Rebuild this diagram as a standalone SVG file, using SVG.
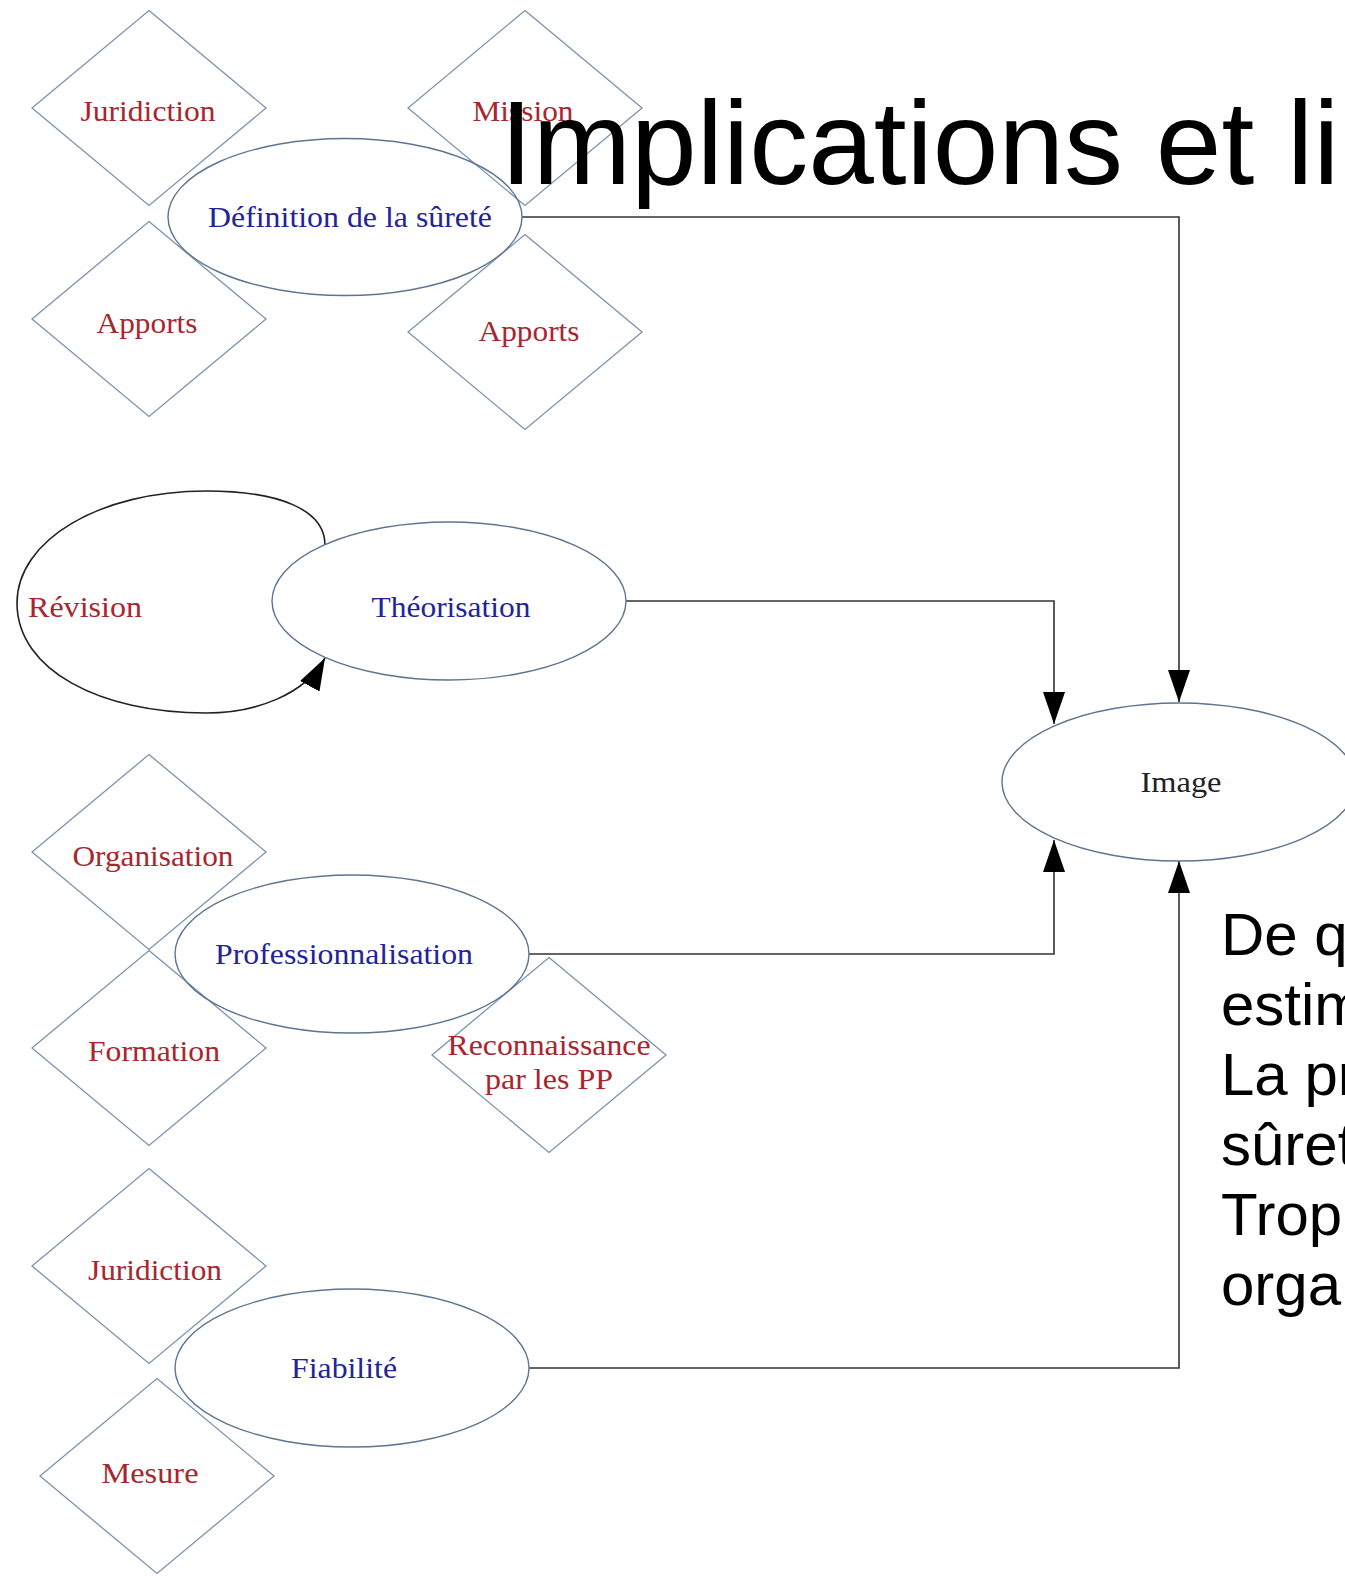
<svg xmlns="http://www.w3.org/2000/svg" width="1345" height="1576" viewBox="0 0 1345 1576">
<defs>
<style>
.dia{fill:none;stroke:#7a93b0;stroke-width:1.3}
.ell{fill:none;stroke:#5d7590;stroke-width:1.4}
.lbl{font-family:"Liberation Serif","Times New Roman",serif;font-size:30px;text-anchor:middle}
.red{fill:#a8262e}
.blue{fill:#23239a}
.blk{fill:#222}
.edge{fill:none;stroke:#333;stroke-width:1.6}
.loop{fill:none;stroke:#222;stroke-width:1.6}
.title{font-family:"Liberation Sans",Arial,sans-serif;font-size:118px;fill:#000}
.body{font-family:"Liberation Sans",Arial,sans-serif;font-size:60px;fill:#000}
</style>
<marker id="arr" markerUnits="userSpaceOnUse" markerWidth="34" markerHeight="24" refX="32" refY="11" orient="auto"><path d="M0,0 L32,11 L0,22 z" fill="#000"/></marker>
</defs>
<rect width="1345" height="1576" fill="#fff"/>

<g id="connectors">
<path class="edge" d="M522,217 H1179 V702" marker-end="url(#arr)"/>
<path class="edge" d="M626,601 H1054 V724" marker-end="url(#arr)"/>
<path class="edge" d="M529,954 H1054 V840" marker-end="url(#arr)"/>
<path class="edge" d="M529,1368 H1179 V861" marker-end="url(#arr)"/>
<path class="loop" d="M325,545 C325,510 280,491 206,491 C100,491 17,540 17,603 C17,670 100,713 206,713 C255,713 305,695 325,658" marker-end="url(#arr)"/>
</g>

<g id="n-juridiction1"><polygon class="dia" points="149,10.5 266,108 149,205.5 32,108"/><text class="lbl red" x="148" y="121" textLength="135" lengthAdjust="spacingAndGlyphs">Juridiction</text></g>
<g id="n-mission"><polygon class="dia" points="525,10.5 642,108 525,205.5 408,108"/><text class="lbl red" x="523" y="121" textLength="101" lengthAdjust="spacingAndGlyphs">Mission</text></g>
<g id="n-apports1"><polygon class="dia" points="149,221.5 266,319 149,416.5 32,319"/><text class="lbl red" x="147" y="333" textLength="101" lengthAdjust="spacingAndGlyphs">Apports</text></g>
<g id="n-apports2"><polygon class="dia" points="525,234.5 642,332 525,429.5 408,332"/><text class="lbl red" x="529" y="341" textLength="101" lengthAdjust="spacingAndGlyphs">Apports</text></g>
<g id="n-definition"><ellipse class="ell" cx="345" cy="217" rx="177" ry="78.5"/><text class="lbl blue" x="350" y="227" textLength="284" lengthAdjust="spacingAndGlyphs">Définition de la sûreté</text></g>

<g id="n-revision"><text class="lbl red" x="85" y="617" textLength="114" lengthAdjust="spacingAndGlyphs">Révision</text></g>
<g id="n-theorisation"><ellipse class="ell" cx="449" cy="601" rx="177" ry="79"/><text class="lbl blue" x="451" y="617" textLength="159" lengthAdjust="spacingAndGlyphs">Théorisation</text></g>

<g id="n-image"><ellipse class="ell" cx="1179" cy="782" rx="177" ry="79"/><text class="lbl blk" x="1181" y="792" font-size="28" textLength="81" lengthAdjust="spacingAndGlyphs">Image</text></g>

<g id="n-organisation"><polygon class="dia" points="149,754.5 266,852 149,949.5 32,852"/><text class="lbl red" x="153" y="866" textLength="161" lengthAdjust="spacingAndGlyphs">Organisation</text></g>
<g id="n-formation"><polygon class="dia" points="149,950.5 266,1048 149,1145.5 32,1048"/><text class="lbl red" x="154" y="1061" textLength="132" lengthAdjust="spacingAndGlyphs">Formation</text></g>
<g id="n-reconnaissance"><polygon class="dia" points="549,957.5 666,1055 549,1152.5 432,1055"/><text class="lbl red" x="549" y="1055" textLength="203" lengthAdjust="spacingAndGlyphs">Reconnaissance</text><text class="lbl red" x="549" y="1089" textLength="128" lengthAdjust="spacingAndGlyphs">par les PP</text></g>
<g id="n-professionnalisation"><ellipse class="ell" cx="352" cy="954" rx="177" ry="79"/><text class="lbl blue" x="344" y="964" textLength="258" lengthAdjust="spacingAndGlyphs">Professionnalisation</text></g>

<g id="n-juridiction2"><polygon class="dia" points="149,1168.5 266,1266 149,1363.5 32,1266"/><text class="lbl red" x="155" y="1280" textLength="134" lengthAdjust="spacingAndGlyphs">Juridiction</text></g>
<g id="n-mesure"><polygon class="dia" points="157,1378.5 274,1476 157,1573.5 40,1476"/><text class="lbl red" x="150" y="1483" textLength="97" lengthAdjust="spacingAndGlyphs">Mesure</text></g>
<g id="n-fiabilite"><ellipse class="ell" cx="352" cy="1368" rx="177" ry="79"/><text class="lbl blue" x="344" y="1378" textLength="106" lengthAdjust="spacingAndGlyphs">Fiabilité</text></g>

<g id="title"><text class="title" x="500" y="184">Implications et li</text></g>
<g id="body">
<text class="body" x="1221" y="955">De q</text>
<text class="body" x="1221" y="1025">estim</text>
<text class="body" x="1221" y="1095">La pr</text>
<text class="body" x="1221" y="1165">sûret</text>
<text class="body" x="1221" y="1235">Trop</text>
<text class="body" x="1221" y="1305">orga</text>
</g>
</svg>
